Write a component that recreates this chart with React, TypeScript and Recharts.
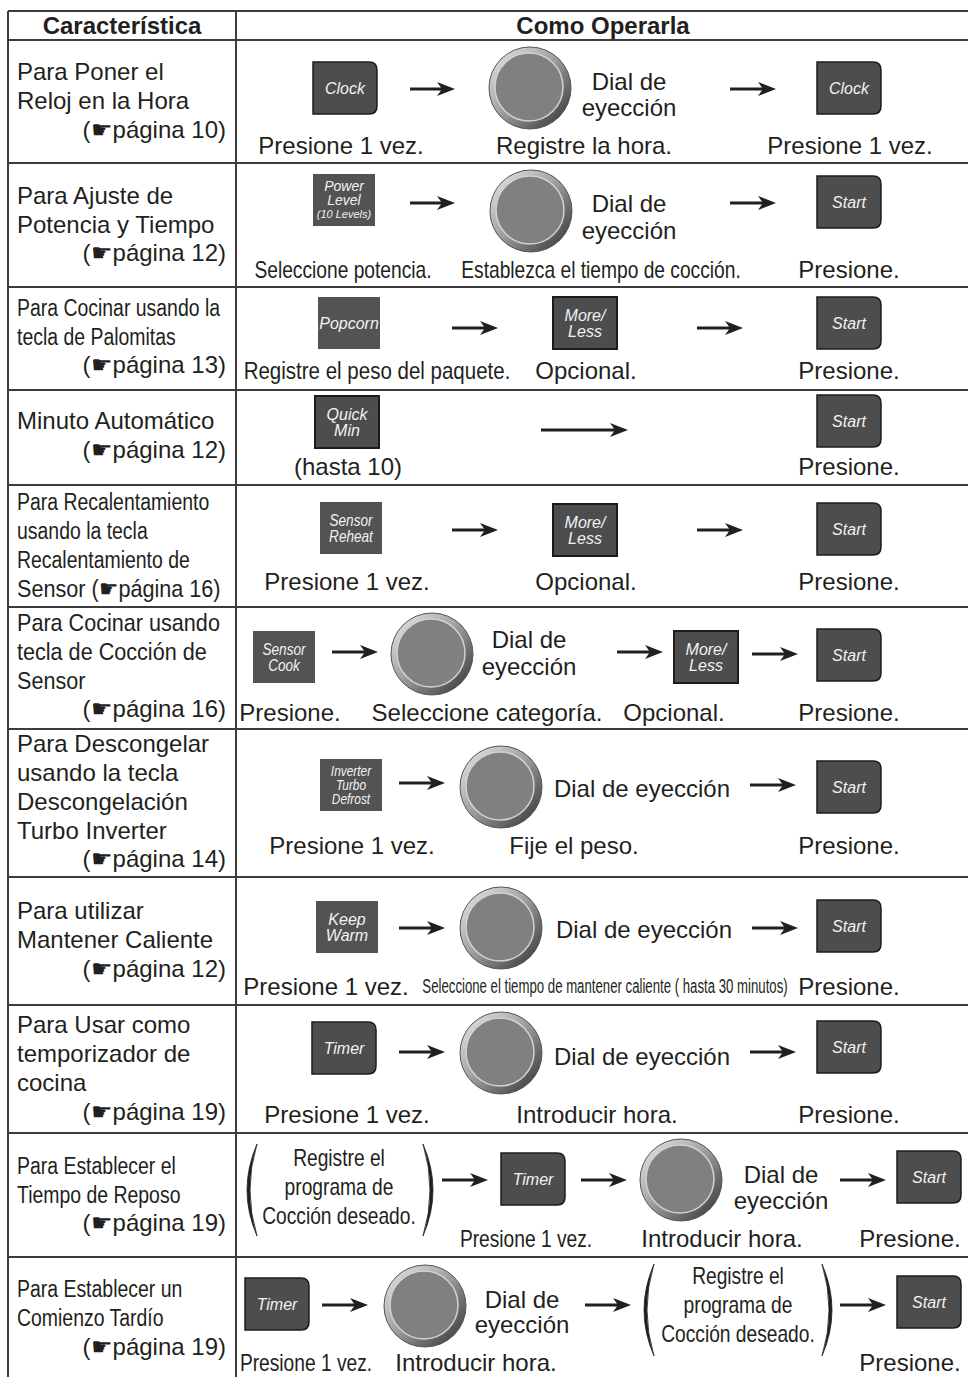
import React from "react";
import { ScatterChart, Scatter, XAxis, YAxis, ReferenceLine } from "recharts";

// table grid (in page pixels, used as data units on hidden axes)
const rowLines = [11, 40, 163, 287, 390, 485, 607, 729, 877, 1005, 1133, 1257];
const columnLines = [8, 236];

const headers = [
  { x: 122, y: 25, t: "Característica" },
  { x: 603, y: 25, t: "Como Operarla" },
];

// left column, regular width
const features = [
  { x: 17, y: 71, t: "Para Poner el" },
  { x: 17, y: 100, t: "Reloj en la Hora" },
  { x: 17, y: 195, t: "Para Ajuste de" },
  { x: 17, y: 224, t: "Potencia y Tiempo" },
  { x: 17, y: 420, t: "Minuto Automático" },
  { x: 17, y: 743, t: "Para Descongelar" },
  { x: 17, y: 772, t: "usando la tecla" },
  { x: 17, y: 801, t: "Descongelación" },
  { x: 17, y: 830, t: "Turbo Inverter" },
  { x: 17, y: 910, t: "Para utilizar" },
  { x: 17, y: 939, t: "Mantener Caliente" },
  { x: 17, y: 1024, t: "Para Usar como" },
  { x: 17, y: 1053, t: "temporizador de" },
  { x: 17, y: 1082, t: "cocina" },
];

// left column, slightly condensed
const featuresSemi = [
  { x: 17, y: 622, t: "Para Cocinar usando" },
  { x: 17, y: 651, t: "tecla de Cocción de" },
  { x: 17, y: 680, t: "Sensor" },
  { x: 17, y: 588, t: "Sensor (☛página 16)" },
];

// left column, condensed
const featuresNarrow = [
  { x: 17, y: 307, t: "Para Cocinar usando la" },
  { x: 17, y: 336, t: "tecla de Palomitas" },
  { x: 17, y: 501, t: "Para Recalentamiento" },
  { x: 17, y: 530, t: "usando la tecla" },
  { x: 17, y: 559, t: "Recalentamiento de" },
  { x: 17, y: 1165, t: "Para Establecer el" },
  { x: 17, y: 1194, t: "Tiempo de Reposo" },
  { x: 17, y: 1288, t: "Para Establecer un" },
  { x: 17, y: 1317, t: "Comienzo Tardío" },
];

const pageRefs = [
  { x: 226, y: 129, t: "(☛página 10)" },
  { x: 226, y: 252, t: "(☛página 12)" },
  { x: 226, y: 364, t: "(☛página 13)" },
  { x: 226, y: 449, t: "(☛página 12)" },
  { x: 226, y: 708, t: "(☛página 16)" },
  { x: 226, y: 858, t: "(☛página 14)" },
  { x: 226, y: 968, t: "(☛página 12)" },
  { x: 226, y: 1111, t: "(☛página 19)" },
  { x: 226, y: 1222, t: "(☛página 19)" },
  { x: 226, y: 1346, t: "(☛página 19)" },
];

const captions = [
  { x: 341, y: 145, t: "Presione 1 vez." },
  { x: 584, y: 145, t: "Registre la hora." },
  { x: 850, y: 145, t: "Presione 1 vez." },
  { x: 849, y: 269, t: "Presione." },
  { x: 586, y: 370, t: "Opcional." },
  { x: 849, y: 370, t: "Presione." },
  { x: 348, y: 466, t: "(hasta 10)" },
  { x: 849, y: 466, t: "Presione." },
  { x: 347, y: 581, t: "Presione 1 vez." },
  { x: 586, y: 581, t: "Opcional." },
  { x: 849, y: 581, t: "Presione." },
  { x: 290, y: 712, t: "Presione." },
  { x: 487, y: 712, t: "Seleccione categoría." },
  { x: 674, y: 712, t: "Opcional." },
  { x: 849, y: 712, t: "Presione." },
  { x: 352, y: 845, t: "Presione 1 vez." },
  { x: 574, y: 845, t: "Fije el peso." },
  { x: 849, y: 845, t: "Presione." },
  { x: 326, y: 986, t: "Presione 1 vez." },
  { x: 849, y: 986, t: "Presione." },
  { x: 347, y: 1114, t: "Presione 1 vez." },
  { x: 597, y: 1114, t: "Introducir hora." },
  { x: 849, y: 1114, t: "Presione." },
  { x: 722, y: 1238, t: "Introducir hora." },
  { x: 910, y: 1238, t: "Presione." },
  { x: 476, y: 1362, t: "Introducir hora." },
  { x: 910, y: 1362, t: "Presione." },
];

const captionsSemi = [
  { x: 377, y: 370, t: "Registre el peso del paquete." },
];

const captionsNarrow = [
  { x: 343, y: 269, t: "Seleccione potencia." },
  { x: 601, y: 269, t: "Establezca el tiempo de cocción." },
  { x: 526, y: 1238, t: "Presione 1 vez." },
  { x: 306, y: 1362, t: "Presione 1 vez." },
  { x: 339, y: 1157, t: "Registre el" },
  { x: 339, y: 1186, t: "programa de" },
  { x: 339, y: 1215, t: "Cocción deseado." },
  { x: 738, y: 1275, t: "Registre el" },
  { x: 738, y: 1304, t: "programa de" },
  { x: 738, y: 1333, t: "Cocción deseado." },
];

const captionsTiny = [
  { x: 605, y: 986, t: "Seleccione el tiempo de mantener caliente ( hasta 30 minutos)" },
];

const dialLabels = [
  { x: 629, y: 81, t: "Dial de" },
  { x: 629, y: 107, t: "eyección" },
  { x: 629, y: 203, t: "Dial de" },
  { x: 629, y: 230, t: "eyección" },
  { x: 529, y: 639, t: "Dial de" },
  { x: 529, y: 666, t: "eyección" },
  { x: 642, y: 788, t: "Dial de eyección" },
  { x: 644, y: 929, t: "Dial de eyección" },
  { x: 642, y: 1056, t: "Dial de eyección" },
  { x: 781, y: 1174, t: "Dial de" },
  { x: 781, y: 1200, t: "eyección" },
  { x: 522, y: 1299, t: "Dial de" },
  { x: 522, y: 1324, t: "eyección" },
];

const buttonFaces: Record<string, string[]> = {
  Clock: ["Clock"],
  Start: ["Start"],
  Timer: ["Timer"],
  PowerLevel: ["Power", "Level", "(10 Levels)"],
  Popcorn: ["Popcorn"],
  MoreLess: ["More/", "Less"],
  QuickMin: ["Quick", "Min"],
  SensorReheat: ["Sensor", "Reheat"],
  SensorCook: ["Sensor", "Cook"],
  Defrost: ["Inverter", "Turbo", "Defrost"],
  KeepWarm: ["Keep", "Warm"],
};

const buttons = [
  { x: 345, y: 88, key: "Clock" },
  { x: 849, y: 88, key: "Clock" },
  { x: 344, y: 200, key: "PowerLevel" },
  { x: 849, y: 202, key: "Start" },
  { x: 349, y: 323, key: "Popcorn" },
  { x: 585, y: 323, key: "MoreLess" },
  { x: 849, y: 323, key: "Start" },
  { x: 347, y: 422, key: "QuickMin" },
  { x: 849, y: 421, key: "Start" },
  { x: 351, y: 528, key: "SensorReheat" },
  { x: 585, y: 530, key: "MoreLess" },
  { x: 849, y: 529, key: "Start" },
  { x: 284, y: 657, key: "SensorCook" },
  { x: 706, y: 657, key: "MoreLess" },
  { x: 849, y: 655, key: "Start" },
  { x: 351, y: 785, key: "Defrost" },
  { x: 849, y: 787, key: "Start" },
  { x: 347, y: 927, key: "KeepWarm" },
  { x: 849, y: 926, key: "Start" },
  { x: 344, y: 1048, key: "Timer" },
  { x: 849, y: 1047, key: "Start" },
  { x: 533, y: 1179, key: "Timer" },
  { x: 929, y: 1177, key: "Start" },
  { x: 277, y: 1304, key: "Timer" },
  { x: 929, y: 1302, key: "Start" },
];

const dials = [
  { x: 530, y: 88 },
  { x: 531, y: 211 },
  { x: 432, y: 654 },
  { x: 501, y: 787 },
  { x: 501, y: 928 },
  { x: 501, y: 1053 },
  { x: 681, y: 1180 },
  { x: 425, y: 1306 },
];

const arrows = [
  { x1: 410, x2: 455, y: 89 },
  { x1: 730, x2: 776, y: 89 },
  { x1: 410, x2: 455, y: 203 },
  { x1: 730, x2: 776, y: 203 },
  { x1: 452, x2: 498, y: 328 },
  { x1: 697, x2: 743, y: 328 },
  { x1: 541, x2: 628, y: 430 },
  { x1: 452, x2: 498, y: 530 },
  { x1: 697, x2: 743, y: 530 },
  { x1: 332, x2: 378, y: 652 },
  { x1: 617, x2: 663, y: 652 },
  { x1: 752, x2: 798, y: 654 },
  { x1: 399, x2: 445, y: 783 },
  { x1: 750, x2: 796, y: 785 },
  { x1: 399, x2: 445, y: 928 },
  { x1: 752, x2: 798, y: 928 },
  { x1: 399, x2: 445, y: 1052 },
  { x1: 750, x2: 796, y: 1052 },
  { x1: 442, x2: 488, y: 1180 },
  { x1: 581, x2: 627, y: 1180 },
  { x1: 840, x2: 886, y: 1180 },
  { x1: 322, x2: 368, y: 1305 },
  { x1: 585, x2: 631, y: 1305 },
  { x1: 840, x2: 886, y: 1305 },
];

const parens = [
  { x: 252, y: 1190, side: "l" },
  { x: 428, y: 1190, side: "r" },
  { x: 649, y: 1310, side: "l" },
  { x: 827, y: 1310, side: "r" },
];

const W = 968;
const H = 1377;
const FONT = '"Liberation Sans", Arial, Helvetica, sans-serif';
const INK = "#231f20";
const GRID = "#3c3c3c";
const ROUNDED = ["Clock", "Start", "Timer"];
const BOXED = ["MoreLess", "QuickMin"];
const NARROW_FACES = ["SensorReheat", "SensorCook", "Defrost"];

const textShape =
  (anchor: "start" | "middle" | "end", size: number, squeeze: number, weight = "normal") =>
  (p: any) => {
    const { cx, cy, payload } = p;
    return (
      <text
        transform={`translate(${cx},${cy}) scale(${squeeze},1)`}
        textAnchor={anchor}
        dy="0.36em"
        fontSize={size}
        fontFamily={FONT}
        fontWeight={weight}
        fill={INK}
      >
        {payload.t}
      </text>
    );
  };

const buttonShape = (p: any) => {
  const { cx, cy, payload } = p;
  const key = payload.key as string;
  const lines = buttonFaces[key];
  const rounded = ROUNDED.includes(key);
  const boxed = BOXED.includes(key);
  const w = rounded || boxed ? 64 : 62;
  const h = 52;
  const x = cx - w / 2;
  const y = cy - h / 2;
  const r = 8;
  const n = lines.length;
  const gap = n === 3 ? 14 : 16;
  const fs = n === 3 ? 14 : 16;
  const squeeze = NARROW_FACES.includes(key) ? 0.85 : 1;
  return (
    <g>
      {rounded ? (
        <path
          d={`M${x},${y} H${x + w - r} Q${x + w},${y} ${x + w},${y + r} V${y + h - r} Q${x + w},${y + h} ${x + w - r},${y + h} H${x} Z`}
          fill="#4d4d4d"
          stroke="#1c1c1c"
          strokeWidth={1.5}
        />
      ) : (
        <rect
          x={x}
          y={y}
          width={w}
          height={h}
          fill={boxed ? "#4d4d4d" : "#535353"}
          stroke={boxed ? "#1c1c1c" : "none"}
          strokeWidth={2}
        />
      )}
      {lines.map((l, i) => (
        <text
          key={i}
          transform={`translate(${cx},${cy + (i - (n - 1) / 2) * gap}) scale(${squeeze},1)`}
          textAnchor="middle"
          dy="0.36em"
          fontSize={key === "PowerLevel" && i === 2 ? 11 : fs}
          fontStyle="italic"
          fontFamily={FONT}
          fill="#f2f2f2"
        >
          {l}
        </text>
      ))}
    </g>
  );
};

const dialShape = (p: any) => {
  const { cx, cy, index } = p;
  const id = `dialgrad${index}`;
  return (
    <g>
      <defs>
        <linearGradient id={id} x1="0" y1="0" x2="1" y2="1">
          <stop offset="0" stopColor="#ececec" />
          <stop offset="0.45" stopColor="#a3a3a3" />
          <stop offset="1" stopColor="#2e2e2e" />
        </linearGradient>
      </defs>
      <circle cx={cx} cy={cy} r={41} fill={`url(#${id})`} stroke="#555" strokeWidth={1} />
      <circle cx={cx - 1} cy={cy - 1} r={34} fill="#808080" stroke="#d2d2d2" strokeWidth={1.5} />
    </g>
  );
};

const parenShape = (p: any) => {
  const { cx, cy, payload } = p;
  const dir = payload.side === "l" ? -1 : 1;
  const h = 46;
  const ex = cx - dir * 5;
  return (
    <path
      d={`M${ex},${cy - h} Q${cx + dir * 15},${cy} ${ex},${cy + h} Q${cx + dir * 9},${cy} ${ex},${cy - h} Z`}
      fill={INK}
      stroke={INK}
      strokeWidth={0.8}
    />
  );
};

const arrowShape = (p: any) => {
  const { x1, y1, x2 } = p;
  return (
    <g>
      <line x1={x1} y1={y1} x2={x2 - 12} y2={y1} stroke={INK} strokeWidth={3} />
      <path
        d={`M${x2},${y1} L${x2 - 18},${y1 - 7} L${x2 - 13},${y1} L${x2 - 18},${y1 + 7} Z`}
        fill={INK}
      />
    </g>
  );
};

export default function App() {
  return (
    <div style={{ width: W, height: H, background: "#fff" }}>
      <style>{"body{margin:0;background:#fff}"}</style>
      <ScatterChart width={W} height={H} margin={{ top: 0, right: 0, bottom: 0, left: 0 }}>
        <XAxis type="number" dataKey="x" domain={[0, W]} hide />
        <YAxis type="number" dataKey="y" domain={[0, H]} reversed hide />

        {rowLines.map((y) => (
          <ReferenceLine
            key={`h${y}`}
            segment={[{ x: columnLines[0], y }, { x: W, y }]}
            stroke={GRID}
            strokeWidth={2}
            ifOverflow="visible"
          />
        ))}
        {columnLines.map((x) => (
          <ReferenceLine
            key={`v${x}`}
            segment={[{ x, y: rowLines[0] }, { x, y: H }]}
            stroke={GRID}
            strokeWidth={2}
            ifOverflow="visible"
          />
        ))}
        {arrows.map((a, i) => (
          <ReferenceLine
            key={`a${i}`}
            segment={[{ x: a.x1, y: a.y }, { x: a.x2, y: a.y }]}
            shape={arrowShape}
            ifOverflow="visible"
          />
        ))}

        <Scatter data={headers} shape={textShape("middle", 24, 1, "bold")} isAnimationActive={false} />
        <Scatter data={features} shape={textShape("start", 24, 1)} isAnimationActive={false} />
        <Scatter data={featuresSemi} shape={textShape("start", 24, 0.9)} isAnimationActive={false} />
        <Scatter data={featuresNarrow} shape={textShape("start", 24, 0.81)} isAnimationActive={false} />
        <Scatter data={pageRefs} shape={textShape("end", 24, 1)} isAnimationActive={false} />
        <Scatter data={captions} shape={textShape("middle", 24, 1)} isAnimationActive={false} />
        <Scatter data={captionsSemi} shape={textShape("middle", 24, 0.855)} isAnimationActive={false} />
        <Scatter data={captionsNarrow} shape={textShape("middle", 24, 0.8)} isAnimationActive={false} />
        <Scatter data={captionsTiny} shape={textShape("middle", 20, 0.66)} isAnimationActive={false} />
        <Scatter data={dialLabels} shape={textShape("middle", 24, 1)} isAnimationActive={false} />
        <Scatter data={buttons} shape={buttonShape} isAnimationActive={false} />
        <Scatter data={dials} shape={dialShape} isAnimationActive={false} />
        <Scatter data={parens} shape={parenShape} isAnimationActive={false} />
      </ScatterChart>
    </div>
  );
}
